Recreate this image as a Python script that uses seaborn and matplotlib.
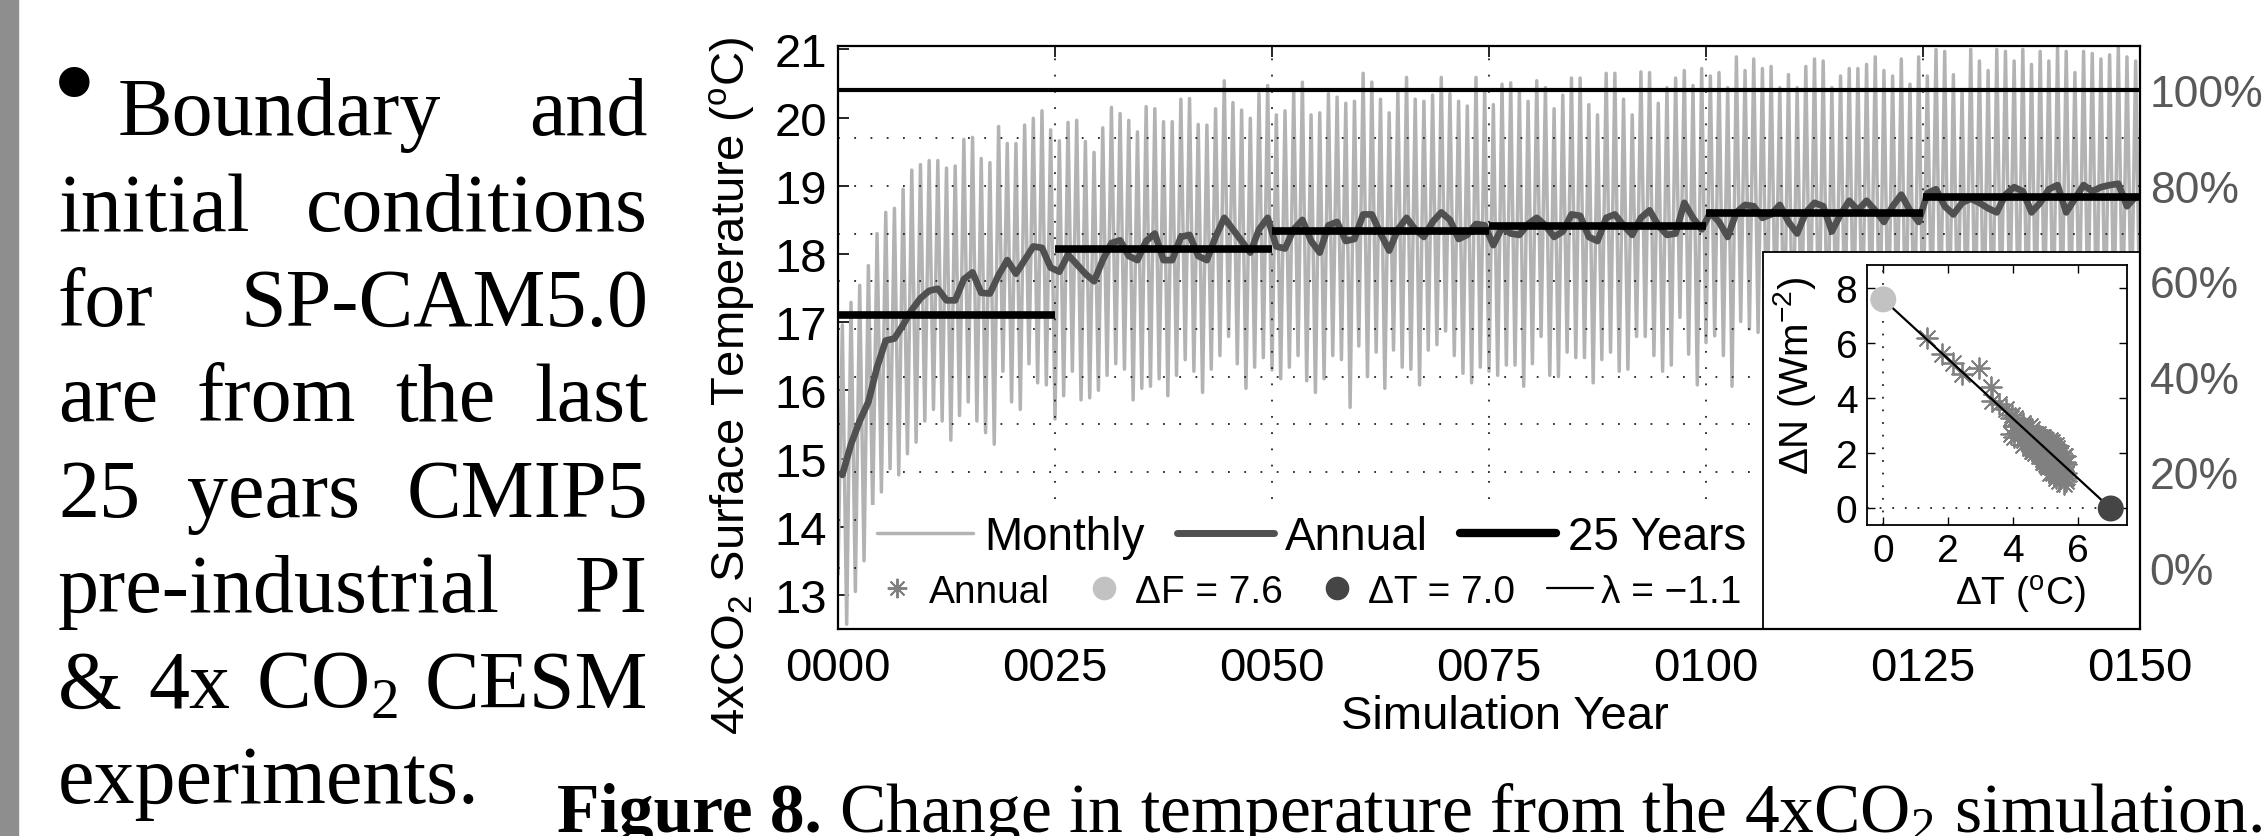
import numpy as np
import pandas as pd
import matplotlib
matplotlib.use("Agg")
import matplotlib.pyplot as plt
import seaborn as sns
from matplotlib.patches import Rectangle
from matplotlib.lines import Line2D

# annual global mean surface temperature of the 4xCO2 run (deg C), years 0..149
annual_temp = [
    14.76, 15.21, 15.55, 15.83, 16.34, 16.73, 16.76, 16.96, 17.18, 17.35,
    17.46, 17.49, 17.32, 17.32, 17.63, 17.73, 17.43, 17.42, 17.69, 17.91,
    17.71, 17.91, 18.11, 18.09, 17.80, 17.74, 17.99, 17.85, 17.71, 17.60,
    17.91, 18.16, 18.20, 17.97, 17.91, 18.19, 18.30, 17.91, 17.91, 18.25,
    18.28, 17.97, 17.91, 18.25, 18.53, 18.36, 18.19, 18.02, 18.36, 18.53,
    18.11, 18.08, 18.36, 18.50, 18.19, 18.02, 18.42, 18.47, 18.19, 18.22,
    18.58, 18.58, 18.30, 18.05, 18.36, 18.53, 18.36, 18.25, 18.47, 18.61,
    18.50, 18.22, 18.28, 18.44, 18.42, 18.13, 18.39, 18.30, 18.28, 18.44,
    18.53, 18.42, 18.25, 18.33, 18.58, 18.56, 18.25, 18.19, 18.53, 18.58,
    18.42, 18.28, 18.53, 18.64, 18.42, 18.28, 18.30, 18.75, 18.53, 18.36,
    18.61, 18.47, 18.25, 18.61, 18.72, 18.70, 18.53, 18.58, 18.72, 18.47,
    18.30, 18.61, 18.75, 18.70, 18.33, 18.58, 18.78, 18.64, 18.78, 18.64,
    18.47, 18.70, 18.87, 18.64, 18.47, 18.89, 18.95, 18.70, 18.58, 18.75,
    18.81, 18.75, 18.67, 18.61, 18.87, 18.98, 18.92, 18.61, 18.75, 18.95,
    19.01, 18.61, 18.81, 19.01, 18.92, 18.98, 19.01, 19.03, 18.70, 18.84,
]

# monthly series: summer highs (mid-year) and winter lows (start of each year, 0..150)
monthly_high = [
    16.96, 17.29, 17.54, 17.83, 18.30, 18.61, 18.67, 18.95, 19.23, 19.31,
    19.37, 19.37, 19.26, 19.29, 19.68, 19.71, 19.40, 19.34, 19.87, 19.62,
    19.62, 19.89, 19.99, 20.10, 19.82, 19.66, 19.93, 19.96, 19.65, 19.49,
    19.85, 20.15, 20.06, 19.96, 19.79, 20.16, 20.13, 19.94, 19.94, 20.27,
    20.28, 19.90, 19.89, 20.13, 20.54, 20.22, 20.11, 19.99, 20.35, 20.47,
    20.04, 20.10, 20.38, 20.52, 20.04, 20.07, 20.35, 20.30, 20.21, 20.24,
    20.65, 20.52, 20.27, 20.07, 20.38, 20.59, 20.27, 20.24, 20.33, 20.59,
    20.35, 20.24, 20.17, 20.59, 20.41, 20.19, 20.49, 20.51, 20.38, 20.24,
    20.54, 20.44, 20.13, 20.33, 20.58, 20.58, 20.19, 20.04, 20.65, 20.65,
    20.27, 20.04, 20.67, 20.66, 20.21, 20.44, 20.58, 20.69, 20.47, 20.72,
    20.61, 20.66, 20.44, 20.89, 20.69, 20.86, 20.72, 20.75, 20.44, 20.63,
    20.44, 20.75, 20.86, 20.83, 20.44, 20.61, 20.72, 20.72, 20.78, 20.89,
    20.69, 20.61, 20.86, 20.49, 20.89, 20.61, 21.00, 20.97, 20.63, 20.38,
    21.00, 20.83, 20.69, 21.00, 20.97, 20.83, 21.00, 20.78, 20.97, 20.83,
    21.03, 20.97, 20.66, 20.97, 20.94, 20.86, 20.92, 21.03, 20.89, 20.83,
]
monthly_low = [
    13.30, 12.57, 13.05, 13.50, 14.23, 14.51, 14.85, 14.76, 15.07, 15.24,
    15.55, 15.72, 15.55, 15.27, 15.63, 15.83, 15.55, 15.38, 15.21, 16.28,
    15.83, 15.72, 16.39, 16.11, 16.08, 15.58, 15.92, 16.28, 15.86, 15.89,
    16.00, 16.22, 16.39, 16.31, 15.86, 16.03, 16.06, 16.17, 15.92, 16.22,
    16.45, 16.28, 15.97, 16.31, 16.51, 16.79, 16.39, 16.03, 16.34, 16.48,
    16.30, 16.17, 16.34, 16.51, 16.14, 15.97, 16.17, 16.51, 16.45, 15.75,
    16.65, 16.20, 16.56, 16.03, 16.59, 16.34, 16.31, 16.08, 16.59, 16.67,
    16.87, 16.51, 16.25, 16.11, 16.34, 16.28, 16.22, 16.37, 16.37, 16.06,
    16.39, 16.79, 16.22, 16.20, 16.56, 16.48, 16.48, 16.11, 16.45, 16.56,
    16.28, 16.31, 16.79, 16.79, 16.51, 16.28, 16.37, 17.07, 16.53, 16.08,
    16.70, 16.80, 16.51, 16.06, 17.01, 16.90, 16.85, 16.60, 16.90, 16.50,
    16.30, 16.70, 16.80, 16.60, 16.40, 16.70, 16.90, 16.80, 16.60, 16.90,
    16.50, 16.70, 16.90, 16.60, 16.50, 16.90, 17.00, 16.80, 16.60, 16.80,
    16.90, 16.80, 16.70, 16.60, 17.00, 17.10, 16.80, 16.70, 16.90, 17.10,
    16.80, 16.90, 17.00, 17.00, 17.10, 16.90, 16.80, 17.00, 16.90, 17.00,
    16.80,
]

# annual TOA imbalance (W m-2) for the Gregory plot
annual_dN = [
    6.2, 5.6, 5.3, 4.9, 5.1, 4.4, 3.9, 3.8, 3.6, 3.4,
    3.3, 3.0, 3.3, 2.7, 2.7, 2.6, 3.0, 2.6, 3.1, 2.5,
    3.0, 2.3, 2.6, 2.2, 2.9, 2.5, 2.9, 2.4, 2.3, 2.8,
    2.2, 2.7, 2.5, 2.1, 2.8, 2.0, 2.6, 2.4, 3.0, 1.9,
    2.5, 2.2, 2.7, 2.4, 2.3, 1.8, 2.5, 2.1, 2.4, 1.7,
    2.6, 2.0, 2.3, 2.2, 1.9, 2.4, 2.5, 1.6, 2.1, 2.6,
    2.2, 1.5, 2.4, 2.2, 1.9, 2.4, 1.7, 2.5, 2.0, 2.3,
    1.6, 2.0, 2.6, 1.8, 2.2, 2.1, 2.5, 1.8, 2.3, 1.7,
    2.1, 2.4, 1.9, 2.2, 1.5, 2.3, 2.0, 2.6, 1.8, 2.2,
    1.6, 2.1, 2.5, 1.4, 1.9, 2.4, 1.7, 2.1, 1.3, 1.9,
    2.2, 1.5, 2.0, 1.6, 2.3, 1.2, 1.8, 2.2, 1.4, 1.9,
    2.3, 1.5, 1.9, 1.1, 1.8, 2.4, 1.6, 2.0, 1.3, 1.7,
    2.1, 1.4, 2.0, 1.5, 1.8, 1.2, 1.9, 1.3, 1.7, 2.2,
    1.0, 1.6, 1.4, 1.9, 1.1, 1.7, 1.2, 1.6, 2.0, 0.9,
    1.6, 1.3, 1.8, 1.1, 1.5, 1.9, 1.0, 1.3, 1.2, 1.6,
]

T_PI = 13.4      # pre-industrial reference temperature
DT_EQ = 7.0      # equilibrium warming
DF = 7.6         # forcing
LAM = -1.1       # feedback parameter

year_ticks = [0, 25, 50, 75, 100, 125, 150]
temp_ticks = [13, 14, 15, 16, 17, 18, 19, 20, 21]
pct_ticks = [0, 20, 40, 60, 80, 100]
pct_grid = [0, 10, 20, 30, 40, 50, 60, 70, 80, 90, 100]
inset_xticks = [0, 2, 4, 6]
inset_yticks = [0, 2, 4, 6, 8]

body_lines = [
    ["Boundary", "and"],
    ["initial", "conditions"],
    ["for", "SP-CAM5.0"],
    ["are", "from", "the", "last"],
    ["25", "years", "CMIP5"],
    ["pre-industrial", "PI"],
    ["&", "4x", "CO$_2$", "CESM"],
    ["experiments."],
]
caption_bold = "Figure 8."
caption_rest = "Change in temperature from the 4xCO$_2$ simulation."

C_MON = "#b3b3b3"
C_ANN = "#505050"
C_STAR = "#808080"
C_DF = "#c2c2c2"
C_DT = "#454545"

sns.set_style("ticks", {"axes.edgecolor": "black", "xtick.color": "black",
                        "ytick.color": "black", "text.color": "black",
                        "axes.labelcolor": "black"})
plt.rcParams["font.family"] = ["Liberation Sans", "DejaVu Sans"]
plt.rcParams["mathtext.default"] = "regular"
SERIF = ["Liberation Serif", "DejaVu Serif"]

W, H = 2267, 837
fig = plt.figure(figsize=(W / 100, H / 100), dpi=100)
fig.patch.set_facecolor("white")


def fx(px):
    return px / W


def fy(py):
    return 1 - py / H


def box(l, t, r, b):
    return [fx(l), fy(b), (r - l) / W, (b - t) / H]


# slide side bar
fig.add_artist(Rectangle((0, 0), fx(18), 1, transform=fig.transFigure,
                         color="#8e8e8e", zorder=0))

# ---- main time series ----
AX_L, AX_T, AX_R, AX_B = 838, 47, 2140, 630
ax = fig.add_axes(box(AX_L, AX_T, AX_R, AX_B))


def axfx(px):
    return (px - AX_L) / (AX_R - AX_L)


def axfy(py):
    return (AX_B - py) / (AX_B - AX_T)


years = np.arange(len(annual_temp))
mon_x = np.empty(len(monthly_low) + len(monthly_high))
mon_y = np.empty_like(mon_x)
mon_x[0::2] = np.arange(len(monthly_low))
mon_y[0::2] = monthly_low
mon_x[1::2] = np.arange(len(monthly_high)) + 0.5
mon_y[1::2] = monthly_high

sns.lineplot(x=mon_x, y=mon_y, ax=ax, color=C_MON, lw=2.5, estimator=None, zorder=2)
sns.lineplot(x=years + 0.5, y=annual_temp, ax=ax, color=C_ANN, lw=4.8,
             estimator=None, zorder=2.1)

df = pd.DataFrame({"year": years, "temp": annual_temp})
df["block"] = df["year"] // 25
blocks = df.groupby("block")["temp"].mean()
starts = blocks.index.to_numpy() * 25
ax.hlines(blocks.to_numpy(), starts, starts + 25, color="black", lw=5.5, zorder=2.2)
ax.axhline(T_PI + DT_EQ, color="black", lw=3, zorder=2.2)

ax.set_xlim(0, 150)
ax.set_ylim(12.5, 21.05)

# dotted grid (percent levels and year ticks)
grid_T = [T_PI + p / 100 * DT_EQ for p in pct_grid]
ax.hlines(grid_T, 0, 150, colors="#222222", linestyles=(0, (1, 8)), lw=1.3, zorder=2.05)
ax.vlines(year_ticks[1:-1], 12.5, 21.05, colors="#222222", linestyles=(0, (1, 8)),
          lw=1.3, zorder=2.05)

ax.set_xticks(year_ticks)
ax.set_xticklabels([f"{t:04d}" for t in year_ticks])
ax.set_yticks(temp_ticks)
ax.tick_params(direction="in", length=8, width=1.2, top=True, right=True, labelsize=34)
ax.tick_params(axis="x", pad=12)
ax.tick_params(axis="y", pad=8)
for s in ax.spines.values():
    s.set_linewidth(1.6)

ax.set_xlabel("Simulation Year", fontsize=34)
ax.xaxis.set_label_coords(0.512, -0.112)
ax.set_ylabel("4xCO$_2$ Surface Temperature ($^{o}$C)", fontsize=34)
ax.yaxis.set_label_coords(axfx(757), axfy(386))

# white patch behind legends and the inset frame
ax.add_patch(Rectangle((axfx(868), 0), axfx(1763) - axfx(868), axfy(506),
                       transform=ax.transAxes, facecolor="white", edgecolor="none",
                       zorder=2.3))
ax.add_patch(Rectangle((axfx(1763), 0), 1 - axfx(1763), axfy(253),
                       transform=ax.transAxes, facecolor="white", edgecolor="black",
                       lw=1.3, zorder=2.4))

leg1 = ax.legend(
    handles=[Line2D([], [], color=C_MON, lw=2.5),
             Line2D([], [], color=C_ANN, lw=5),
             Line2D([], [], color="black", lw=6)],
    labels=["Monthly", "Annual", "25 Years"],
    ncol=3, fontsize=33, frameon=False, handlelength=2.1, handletextpad=0.25,
    columnspacing=0.7, borderpad=0, borderaxespad=0, loc="center left",
    bbox_to_anchor=(fx(877), fy(538)), bbox_transform=fig.transFigure)
ax.add_artist(leg1)
ax.legend(
    handles=[Line2D([], [], ls="none", marker=(8, 2, 0), color=C_STAR, ms=14, mew=1.4),
             Line2D([], [], ls="none", marker="o", color=C_DF, ms=16),
             Line2D([], [], ls="none", marker="o", color=C_DT, ms=16),
             Line2D([], [], color="black", lw=1.6)],
    labels=["Annual", f"ΔF = {DF:.1f}", f"ΔT = {DT_EQ:.1f}",
            f"λ = {LAM:.1f}".replace("-", "\u2212")],
    ncol=4, fontsize=28, frameon=False, handlelength=1.2, handletextpad=0.2,
    columnspacing=0.8, borderpad=0, borderaxespad=0, loc="center left",
    bbox_to_anchor=(fx(874), fy(593)), bbox_transform=fig.transFigure)

# right axis: fraction of equilibrium warming
tw = ax.twinx()
lo, hi = ax.get_ylim()
tw.set_ylim((lo - T_PI) / DT_EQ * 100, (hi - T_PI) / DT_EQ * 100)
tw.set_yticks(pct_ticks)
tw.set_yticklabels([f"{p}%" for p in pct_ticks])
tw.tick_params(axis="y", length=0, pad=7, labelsize=32, labelcolor="#595959")
for s in tw.spines.values():
    s.set_visible(False)

# ---- inset: Gregory plot ----
ins = fig.add_axes(box(1867, 266, 2127, 526))
ins.set_facecolor("white")
dT_annual = np.array(annual_temp) - T_PI
ins.axhline(0, color="#222222", ls=(0, (1, 6)), lw=1.3, zorder=1)
ins.axvline(0, color="#222222", ls=(0, (1, 6)), lw=1.3, zorder=1)
sns.lineplot(x=[0, DT_EQ], y=[DF, 0], ax=ins, color="black", lw=1.6, zorder=3)
sns.scatterplot(x=dT_annual, y=annual_dN, ax=ins, marker=(8, 2, 0), color=C_STAR,
                s=220, linewidth=1.3, zorder=2)
sns.scatterplot(x=[0], y=[DF], ax=ins, color=C_DF, s=350, edgecolor="none", zorder=4)
sns.scatterplot(x=[DT_EQ], y=[0], ax=ins, color=C_DT, s=350, edgecolor="none", zorder=4)
ins.set_xlim(-0.5, 7.5)
ins.set_ylim(-0.6, 8.85)
ins.set_xticks(inset_xticks)
ins.set_yticks(inset_yticks)
ins.tick_params(direction="in", length=6, width=1, top=True, right=True, labelsize=28)
ins.tick_params(axis="x", pad=6)
ins.tick_params(axis="y", pad=7)
for s in ins.spines.values():
    s.set_linewidth(1.3)
ins.set_xlabel("ΔT ($^{o}$C)", fontsize=28)
ins.xaxis.set_label_coords(0.588, -0.185)
ins.set_ylabel("ΔN (Wm$^{-2}$)", fontsize=29)
ins.yaxis.set_label_coords(-0.19, 0.577)

# ---- slide text ----
renderer = fig.canvas.get_renderer()
BODY_SIZE = 59
fig.text(fx(74), fy(93), "\u2022", ha="center", va="center", fontsize=92, family=SERIF)
for i, words in enumerate(body_lines):
    yb = fy(135 + 95.5 * i)
    left = 118 if i == 0 else 58
    texts = [fig.text(0, yb, w, fontsize=BODY_SIZE, family=SERIF, va="baseline")
             for w in words]
    widths = [t.get_window_extent(renderer).width for t in texts]
    if len(words) > 1 and i < len(body_lines) - 1:
        gap = (648 - left - sum(widths)) / (len(words) - 1)
    else:
        gap = 0.25 * BODY_SIZE * 100 / 72
    x = left
    for t, w in zip(texts, widths):
        t.set_x(fx(x))
        x += w + gap

cap_size = 44
c1 = fig.text(fx(557), fy(832), caption_bold, fontsize=cap_size, weight="bold",
              family=SERIF, va="baseline")
c2 = fig.text(0, fy(832), caption_rest, fontsize=cap_size, family=SERIF, va="baseline")
w1 = c1.get_window_extent(renderer).width
w2 = c2.get_window_extent(renderer).width
space = 0.25 * cap_size * 100 / 72
scale = (2262 - 557) / (w1 + space + w2)
cap_size *= scale
c1.set_fontsize(cap_size)
c2.set_fontsize(cap_size)
w1 = c1.get_window_extent(renderer).width
c2.set_x(fx(557 + w1 + 0.25 * cap_size * 100 / 72))

fig.savefig("out.png", dpi=100)
